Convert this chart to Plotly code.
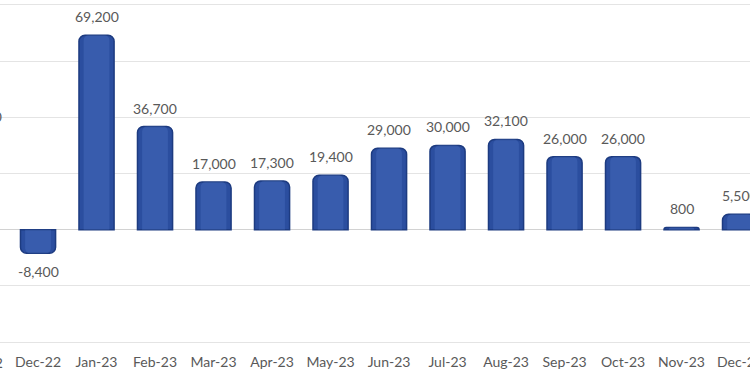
import plotly.graph_objects as go

months = ["Nov-22", "Dec-22", "Jan-23", "Feb-23", "Mar-23", "Apr-23", "May-23",
          "Jun-23", "Jul-23", "Aug-23", "Sep-23", "Oct-23", "Nov-23", "Dec-23"]
values = [33600, -8400, 69200, 36700, 17000, 17300, 19400,
          29000, 30000, 32100, 26000, 26000, 800, 5500]
labels = [f"{v:,}" for v in values]

# visible window of the (cropped) category axis, in category index units
x_range = [0.35, 13.17]
y_range = [-41000, 81000]

FONT = "Lato, 'Open Sans', sans-serif"
GREY = "#595959"
BAR = "#2B4E9F"
BAR_EDGE = "#1D3B80"
SHINE = "rgba(85,125,205,0.30)"

idx = list(range(len(months)))

fig = go.Figure()
fig.add_trace(go.Bar(
    x=idx, y=values,
    marker=dict(color=BAR, line=dict(color=BAR_EDGE, width=1.5), cornerradius=6),
    width=0.6, hoverinfo="skip",
))
# soft lighter core to suggest the rounded, shaded bars of the original
fig.add_trace(go.Bar(
    x=idx, y=values,
    marker=dict(color=SHINE, line=dict(width=0), cornerradius=5),
    width=0.44, hoverinfo="skip",
))

fig.update_layout(
    width=750, height=375,
    margin=dict(l=0, r=0, t=2, b=30),
    paper_bgcolor="white", plot_bgcolor="white",
    barmode="overlay", showlegend=False,
    font=dict(family=FONT, size=14, color=GREY),
    xaxis=dict(
        range=x_range, tickmode="array", tickvals=idx, ticktext=months,
        showgrid=False, zeroline=False, showline=False, ticks="",
        ticklabelstandoff=7, ticklabeloverflow="allow", automargin=False,
        tickfont=dict(family=FONT, size=14, color=GREY),
    ),
    yaxis=dict(
        range=y_range, dtick=20000, tick0=0, showticklabels=False,
        showgrid=True, gridcolor="#E4E4E4", gridwidth=1,
        zeroline=True, zerolinecolor="#D2D2D2", zerolinewidth=1,
        showline=False, ticks="", automargin=False,
    ),
)

def paper_x(i):
    return (i - x_range[0]) / (x_range[1] - x_range[0])

# value labels above / below each bar
for i, v, t in zip(idx, values, labels):
    fig.add_annotation(
        x=paper_x(i), xref="paper", xanchor="center",
        y=v, yref="y", yanchor="bottom" if v >= 0 else "top",
        yshift=8 if v >= 0 else -8,
        text=t, showarrow=False,
        font=dict(family=FONT, size=14, color=GREY),
    )

# tick label of the first month, which sits just outside the cropped window
fig.add_annotation(
    x=paper_x(idx[0]), xref="paper", xanchor="center",
    y=0, yref="paper", yanchor="middle", yshift=-17,
    text=months[0], showarrow=False,
    font=dict(family=FONT, size=14, color=GREY),
)

fig.write_html("out.html", config={"displayModeBar": False},
               post_script="document.body.style.margin='0';")
